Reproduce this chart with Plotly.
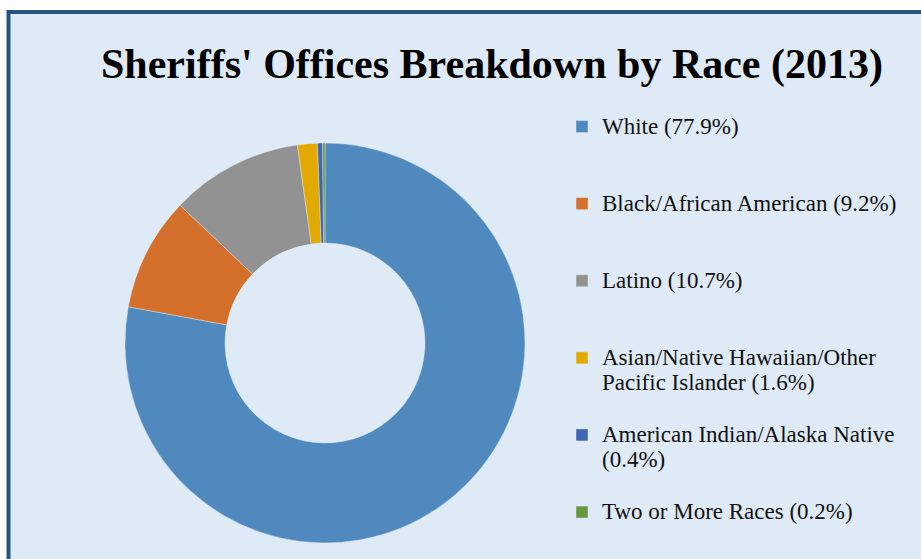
import textwrap
import plotly.graph_objects as go

# ---- data ----
categories = [
    "White",
    "Black/African American",
    "Latino",
    "Asian/Native Hawaiian/Other Pacific Islander",
    "American Indian/Alaska Native",
    "Two or More Races",
]
percent = [77.9, 9.2, 10.7, 1.6, 0.4, 0.2]
colors = ["#4F89BE", "#D4702B", "#929292", "#E2AA00", "#3F66B0", "#66993F"]
title_text = "Sheriffs' Offices Breakdown by Race (2013)"

W, H = 921, 559
FONT = "Liberation Serif"


def legend_label(cat, val):
    lines = textwrap.wrap(f"{cat} ({val}%)", width=29)
    if len(lines) == 1:
        lines.append("&nbsp;")
    lines = ["&nbsp;"] + lines
    return "<br>".join(f"<span style='font-size:23px'>{ln}</span>" for ln in lines)


labels = [legend_label(c, v) for c, v in zip(categories, percent)]

fig = go.Figure()
fig.add_trace(go.Pie(
    labels=labels,
    values=percent,
    hole=0.5,
    sort=False,
    direction="clockwise",
    rotation=0,
    textinfo="none",
    hovertext=[f"{c}: {v}%" for c, v in zip(categories, percent)],
    hoverinfo="text",
    marker=dict(colors=colors, line=dict(color="rgba(225,235,245,0.6)", width=0.7)),
    domain=dict(x=[(325 - 200) / W, (325 + 200) / W], y=[1 - 543 / H, 1 - 143 / H]),
    showlegend=True,
))

# background panel with dark-blue border (extends past the right/bottom edges)
fig.add_shape(
    type="rect", xref="paper", yref="paper",
    x0=8.5 / W, x1=1.05, y0=-0.05, y1=1 - 12 / H,
    line=dict(color="#26537F", width=4),
    fillcolor="#DEEAF6",
    layer="below",
)

fig.update_layout(
    width=W, height=H,
    margin=dict(l=0, r=0, t=0, b=0),
    paper_bgcolor="white",
    plot_bgcolor="rgba(0,0,0,0)",
    font=dict(family=FONT, color="#111111"),
    title=dict(
        text=f"<b>{title_text}</b>",
        x=492 / W, xanchor="center",
        y=1 - 63 / H, yanchor="middle",
        font=dict(family=FONT, size=42, color="black"),
    ),
    legend=dict(
        x=562 / W, xanchor="left",
        y=1 - 83 / H, yanchor="top",
        font=dict(family=FONT, size=19, color="#111111"),
        bgcolor="rgba(0,0,0,0)",
        traceorder="normal",
    ),
)

fig.write_html(
    "out.html",
    config={"displayModeBar": False},
    post_script="document.body.style.margin='0px';document.body.style.overflow='hidden';",
)
